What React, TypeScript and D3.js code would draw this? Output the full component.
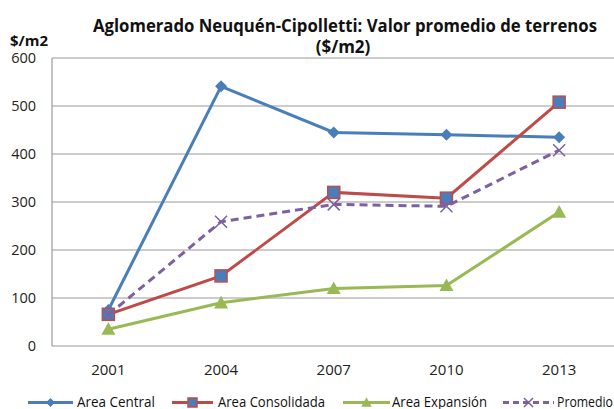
import React from "react";
import * as d3 from "d3";

const years = ["2001", "2004", "2007", "2010", "2013"];
const areaCentral = [75, 541, 445, 440, 435];
const areaConsolidada = [66, 146, 320, 308, 508];
const areaExpansion = [35, 90, 120, 126, 279];
const promedio = [65, 259, 295, 291, 408];
const yTicks = [0, 100, 200, 300, 400, 500, 600];

const W = 614, H = 409;
const left = 52, top = 58, bottom = 346;
const band = 112.7;

type S = { name: string; values: number[]; color: string; marker: string; dash?: string; fill: string };
const series: S[] = [
  { name: "Area Central", values: areaCentral, color: "#4A7EBB", marker: "diamond", fill: "#4A7EBB" },
  { name: "Area Consolidada", values: areaConsolidada, color: "#BE4B48", marker: "square", fill: "#4A7EBB" },
  { name: "Area Expansión", values: areaExpansion, color: "#98B954", marker: "triangle", fill: "#98B954" },
  { name: "Promedio", values: promedio, color: "#7D60A0", marker: "x", dash: "8,5", fill: "none" },
];

const font = "'Open Sans', 'Liberation Sans', sans-serif";

function Marker({ type, x, y, color, fill, size = 1 }: { type: string; x: number; y: number; color: string; fill: string; size?: number }) {
  if (type === "diamond") {
    const s = 6 * size;
    return <path d={`M${x},${y - s}L${x + s},${y}L${x},${y + s}L${x - s},${y}Z`} fill={fill} stroke="none" />;
  }
  if (type === "square") {
    const s = 6 * size;
    return <rect x={x - s} y={y - s} width={2 * s} height={2 * s} fill={fill} stroke={color} strokeWidth={1.5} />;
  }
  if (type === "triangle") {
    const s = 7 * size;
    return <path d={`M${x},${y - s}L${x + s},${y + s * 0.8}L${x - s},${y + s * 0.8}Z`} fill={fill} />;
  }
  const s = 6 * size;
  return <path d={`M${x - s},${y - s}L${x + s},${y + s}M${x - s},${y + s}L${x + s},${y - s}`} stroke={color} strokeWidth={1.5} fill="none" />;
}

export default function App() {
  const x = d3.scaleBand().domain(years).range([left, left + band * years.length]);
  const y = d3.scaleLinear().domain([0, 600]).range([bottom, top]);
  const cx = (d: string) => (x(d) as number) + x.bandwidth() / 2;
  const line = d3.line<number>().x((_, i) => cx(years[i])).y((v) => y(v));

  const legendLine = [[28, 73], [172, 213], [343, 390], [503, 554]];
  const legendText = [[77, 78], [218, 107], [392, 95], [557, 56]];

  return (
    <svg width={W} height={H} style={{ position: "absolute", left: 0, top: 0 }} fontFamily={font}>
      <rect width={W} height={H} fill="#fff" />
      {yTicks.map((t) => (
        <g key={t}>
          <line x1={left} x2={W} y1={y(t)} y2={y(t)} stroke="#9a9a9a" strokeWidth={1.2} />
          <text x={36} y={y(t) + 5} textAnchor="end" fontSize={14.5} fill="#222">{t}</text>
        </g>
      ))}
      <line x1={left} x2={left} y1={top} y2={bottom} stroke="#9a9a9a" strokeWidth={1.2} />
      {years.map((yr) => (
        <text key={yr} x={cx(yr)} y={375} textAnchor="middle" fontSize={15} fill="#222">{yr}</text>
      ))}
      {series.map((s) => (
        <g key={s.name}>
          <path d={line(s.values) || ""} fill="none" stroke={s.color} strokeWidth={3} strokeDasharray={s.dash} />
          {s.values.map((v, i) => (
            <Marker key={i} type={s.marker} x={cx(years[i])} y={y(v)} color={s.color} fill={s.fill} />
          ))}
        </g>
      ))}
      <text x={345} y={32} textAnchor="middle" fontSize={17} fontWeight="bold" fill="#111" textLength={504} lengthAdjust="spacingAndGlyphs">Aglomerado Neuquén-Cipolletti: Valor promedio de terrenos</text>
      <text x={343} y={53} textAnchor="middle" fontSize={17} fontWeight="bold" fill="#111">($/m2)</text>
      <text x={10} y={46} fontSize={14} fontWeight="bold" fill="#111" textLength={38} lengthAdjust="spacingAndGlyphs">$/m2</text>
      {series.map((s, i) => (
        <g key={s.name}>
          <line x1={legendLine[i][0]} x2={legendLine[i][1]} y1={402.5} y2={402.5} stroke={s.color} strokeWidth={3} strokeDasharray={s.dash ? "6,4" : undefined} />
          <Marker type={s.marker} x={(legendLine[i][0] + legendLine[i][1]) / 2} y={402.5} color={s.color} fill={s.fill} size={0.75} />
          <text x={legendText[i][0]} y={407} fontSize={14} fill="#111" textLength={legendText[i][1]} lengthAdjust="spacingAndGlyphs">{s.name}</text>
        </g>
      ))}
    </svg>
  );
}
